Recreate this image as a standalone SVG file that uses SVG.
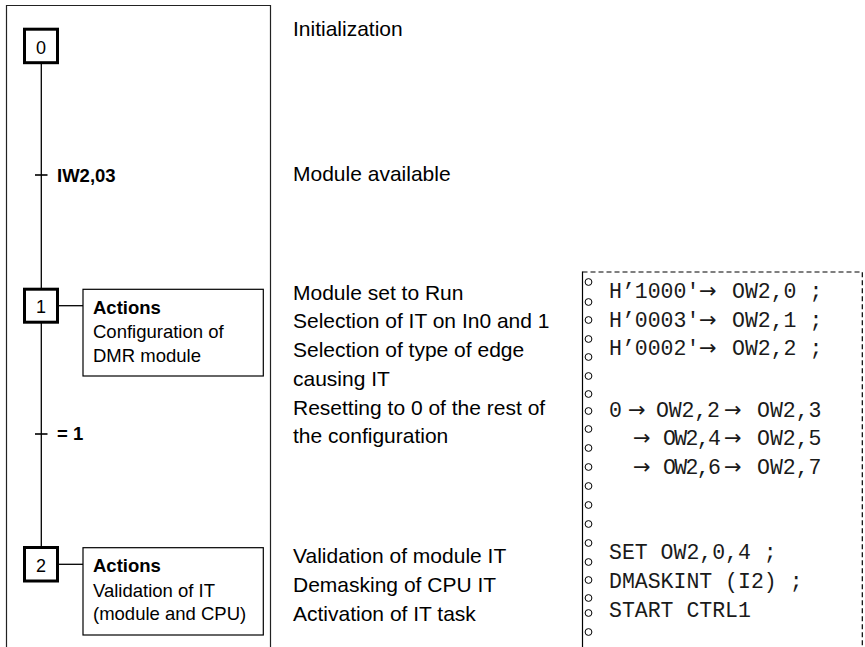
<svg xmlns="http://www.w3.org/2000/svg" width="865" height="647" viewBox="0 0 865 647">
  <style>
    .frame { fill: none; stroke: #222; stroke-width: 1.2; }
    .step { fill: #fff; stroke: #000; stroke-width: 3; }
    .act { fill: #fff; stroke: #000; stroke-width: 1.2; }
    .link { fill: none; stroke: #000; stroke-width: 1.3; }
    .tick { fill: none; stroke: #000; stroke-width: 1.6; }
    .num { font-family: "Liberation Sans", Arial, sans-serif; font-size: 18px; fill: #000; text-anchor: middle; }
    .cond { font-family: "Liberation Sans", Arial, sans-serif; font-size: 18.5px; font-weight: bold; fill: #000; }
    .ah { font-family: "Liberation Sans", Arial, sans-serif; font-size: 18.5px; font-weight: bold; fill: #000; }
    .at { font-family: "Liberation Sans", Arial, sans-serif; font-size: 18.5px; fill: #000; }
    .desc { font-family: "Liberation Sans", Arial, sans-serif; font-size: 21px; fill: #000; }
    .code { font-family: "Liberation Mono", "Courier New", monospace; font-size: 21.5px; fill: #1a1a1a; }
    .arr { font-family: "DejaVu Sans", sans-serif; font-size: 21px; fill: #1a1a1a; }
    .sheet { fill: none; stroke: #000; stroke-width: 1.2; stroke-dasharray: 5 3; }
    .hole { fill: #fff; stroke: #000; stroke-width: 1; }
  </style>

  <!-- Grafcet frame -->
  <path class="frame" d="M6.5,650 V5.5 H270.5 V650"/>

  <!-- Connectors: sequence line, transitions, action links -->
  <g id="connectors">
    <line class="link" x1="41.3" y1="64" x2="41.3" y2="288"/>
    <line class="link" x1="41.3" y1="323" x2="41.3" y2="547"/>
    <line class="tick" x1="35" y1="175" x2="47.5" y2="175"/>
    <line class="tick" x1="35" y1="434" x2="47.5" y2="434"/>
    <line class="link" x1="59" y1="305.7" x2="83" y2="305.7"/>
    <line class="link" x1="59" y1="564.3" x2="83" y2="564.3"/>
  </g>

  <!-- Steps -->
  <g id="step0">
    <rect class="step" x="24.5" y="29.2" width="33" height="33.5"/>
    <text class="num" x="41" y="53.5">0</text>
  </g>
  <g id="step1">
    <rect class="step" x="24.5" y="289.2" width="33" height="33"/>
    <text class="num" x="41" y="312.5">1</text>
  </g>
  <g id="step2">
    <rect class="step" x="24.5" y="547.5" width="33" height="33.5"/>
    <text class="num" x="41" y="571.5">2</text>
  </g>

  <!-- Transition conditions -->
  <g id="t01"><text class="cond" x="57" y="181.7">IW2,03</text></g>
  <g id="t12"><text class="cond" x="57" y="439.5">= 1</text></g>

  <!-- Action boxes -->
  <g id="action1">
    <rect class="act" x="83" y="289.3" width="180.3" height="86.7"/>
    <text class="ah" x="93" y="314">Actions</text>
    <text class="at" x="93" y="338.3">Configuration of</text>
    <text class="at" x="93" y="361.7">DMR module</text>
  </g>
  <g id="action2">
    <rect class="act" x="83" y="547.7" width="180.3" height="87.3"/>
    <text class="ah" x="93" y="572.3">Actions</text>
    <text class="at" x="93" y="596.7">Validation of IT</text>
    <text class="at" x="93" y="620">(module and CPU)</text>
  </g>

  <!-- Descriptions -->
  <g id="descriptions">
    <text class="desc" x="293" y="36">Initialization</text>
    <text class="desc" x="293" y="181">Module available</text>
    <text class="desc" x="293" y="299.5">Module set to Run</text>
    <text class="desc" x="293" y="328.3">Selection of IT on In0 and 1</text>
    <text class="desc" x="293" y="357">Selection of type of edge</text>
    <text class="desc" x="293" y="385.8">causing IT</text>
    <text class="desc" x="293" y="414.5">Resetting to 0 of the rest of</text>
    <text class="desc" x="293" y="443.3">the configuration</text>
    <text class="desc" x="293" y="562.5">Validation of module IT</text>
    <text class="desc" x="293" y="591.5">Demasking of CPU IT</text>
    <text class="desc" x="293" y="620.5">Activation of IT task</text>
  </g>

  <!-- Program sheet -->
  <g id="sheet">
    <path class="sheet" d="M582.5,272 H862.3 V650"/>
    <line x1="582.5" y1="271.5" x2="582.5" y2="650" stroke="#000" stroke-width="1.2"/>
    <g id="holes">
      <circle class="hole" cx="588.5" cy="282" r="3.4"/>
      <circle class="hole" cx="588.5" cy="302" r="3.4"/>
      <circle class="hole" cx="588.5" cy="320" r="3.4"/>
      <circle class="hole" cx="588.5" cy="339" r="3.4"/>
      <circle class="hole" cx="588.5" cy="357" r="3.4"/>
      <circle class="hole" cx="588.5" cy="376" r="3.4"/>
      <circle class="hole" cx="588.5" cy="394" r="3.4"/>
      <circle class="hole" cx="588.5" cy="411" r="3.4"/>
      <circle class="hole" cx="588.5" cy="429" r="3.4"/>
      <circle class="hole" cx="588.5" cy="448" r="3.4"/>
      <circle class="hole" cx="588.5" cy="467" r="3.4"/>
      <circle class="hole" cx="588.5" cy="486" r="3.4"/>
      <circle class="hole" cx="588.5" cy="505" r="3.4"/>
      <circle class="hole" cx="588.5" cy="524" r="3.4"/>
      <circle class="hole" cx="588.5" cy="543" r="3.4"/>
      <circle class="hole" cx="588.5" cy="562" r="3.4"/>
      <circle class="hole" cx="588.5" cy="580" r="3.4"/>
      <circle class="hole" cx="588.5" cy="598" r="3.4"/>
      <circle class="hole" cx="588.5" cy="613" r="3.4"/>
      <circle class="hole" cx="588.5" cy="632" r="3.4"/>
    </g>
    <g id="code">
      <text class="code" x="609" y="298">H’1000'</text>
      <text class="arr" x="699" y="298">→</text>
      <text class="code" x="732" y="298" xml:space="preserve">OW2,0 ;</text>

      <text class="code" x="609" y="326.5">H’0003'</text>
      <text class="arr" x="699" y="326.5">→</text>
      <text class="code" x="732" y="326.5" xml:space="preserve">OW2,1 ;</text>

      <text class="code" x="609" y="355">H’0002'</text>
      <text class="arr" x="699" y="355">→</text>
      <text class="code" x="732" y="355" xml:space="preserve">OW2,2 ;</text>

      <text class="code" x="609" y="416.5">0</text>
      <text class="arr" x="628" y="416.5">→</text>
      <text class="code" x="656" y="416.5" textLength="64">OW2,2</text>
      <text class="arr" x="724" y="416.5">→</text>
      <text class="code" x="757" y="416.5">OW2,3</text>

      <text class="arr" x="633" y="445">→</text>
      <text class="code" x="663" y="445" textLength="58">OW2,4</text>
      <text class="arr" x="724" y="445">→</text>
      <text class="code" x="757" y="445">OW2,5</text>

      <text class="arr" x="633" y="473.5">→</text>
      <text class="code" x="663" y="473.5" textLength="58">OW2,6</text>
      <text class="arr" x="724" y="473.5">→</text>
      <text class="code" x="757" y="473.5">OW2,7</text>

      <text class="code" x="609" y="559" xml:space="preserve">SET OW2,0,4 ;</text>
      <text class="code" x="609" y="588" xml:space="preserve">DMASKINT (I2) ;</text>
      <text class="code" x="609" y="617">START CTRL1</text>
    </g>
  </g>
</svg>
